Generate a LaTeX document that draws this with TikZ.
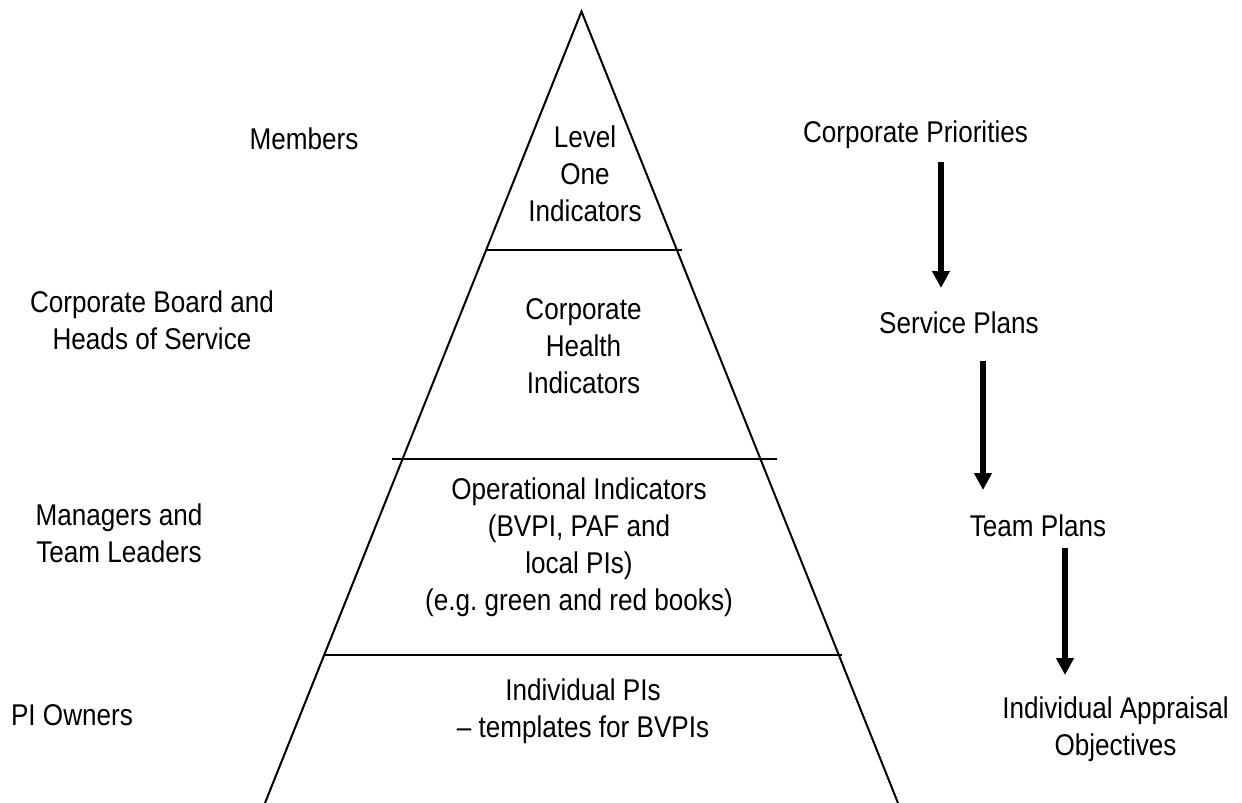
\documentclass[tikz,border=0pt]{standalone}
\usepackage{fontspec}
\setmainfont[FakeStretch=0.87]{Liberation Sans}
\usetikzlibrary{arrows.meta}
\begin{document}
\begin{tikzpicture}[x=0.5pt,y=-0.5pt,
  edge/.style={line width=1pt},
  flow/.style={line width=3pt,-{Triangle[width=8.5pt,length=8.5pt]}},
  lbl/.style={font=\fontsize{15pt}{18.5pt}\selectfont, align=center, inner sep=0pt, anchor=base}]
\useasboundingbox (0,0) rectangle (1242,803);

% pyramid outline
\coordinate (apex) at (581.5,11.5);
\coordinate (bl) at (265,803);
\coordinate (br) at (898,803);
\draw[edge] (bl) -- (apex) -- (br);

% tier dividers
\coordinate (d1l) at (486,250); \coordinate (d1r) at (682,250);
\coordinate (d2l) at (392,459); \coordinate (d2r) at (777,459);
\coordinate (d3l) at (323,655); \coordinate (d3r) at (842,655);
\draw[edge] (d1l) -- (d1r);
\draw[edge] (d2l) -- (d2r);
\draw[edge] (d3l) -- (d3r);

% tier contents (anchored at the baseline of the last line)
\node[lbl] (tier1) at (585,221) {Level\\One\\Indicators};
\node[lbl] (tier2) at (583.5,393) {Corporate\\Health\\Indicators};
\node[lbl] (tier3) at (579,610) {Operational Indicators\\(BVPI, PAF and\\local PIs)\\(e.g.\ green and red books)};
\node[lbl] (tier4) at (583,737) {Individual PIs\\– templates for BVPIs};

% audiences
\node[lbl] (aud1) at (304,149) {Members};
\node[lbl] (aud2) at (152,349) {Corporate Board and\\Heads of Service};
\node[lbl] (aud3) at (119,562) {Managers and\\Team Leaders};
\node[lbl] (aud4) at (72,725) {PI Owners};

% planning cascade
\node[lbl] (plan1) at (915.5,142) {Corporate Priorities};
\node[lbl] (plan2) at (959,333) {Service Plans};
\node[lbl] (plan3) at (1038,536) {Team Plans};
\node[lbl] (plan4) at (1115.5,755) {Individual Appraisal\\Objectives};

\coordinate (a1s) at (941,162); \coordinate (a1e) at (941,288);
\coordinate (a2s) at (983,361); \coordinate (a2e) at (983,490);
\coordinate (a3s) at (1065,548); \coordinate (a3e) at (1065,675);
\draw[flow] (a1s) -- (a1e);
\draw[flow] (a2s) -- (a2e);
\draw[flow] (a3s) -- (a3e);
\end{tikzpicture}
\end{document}
